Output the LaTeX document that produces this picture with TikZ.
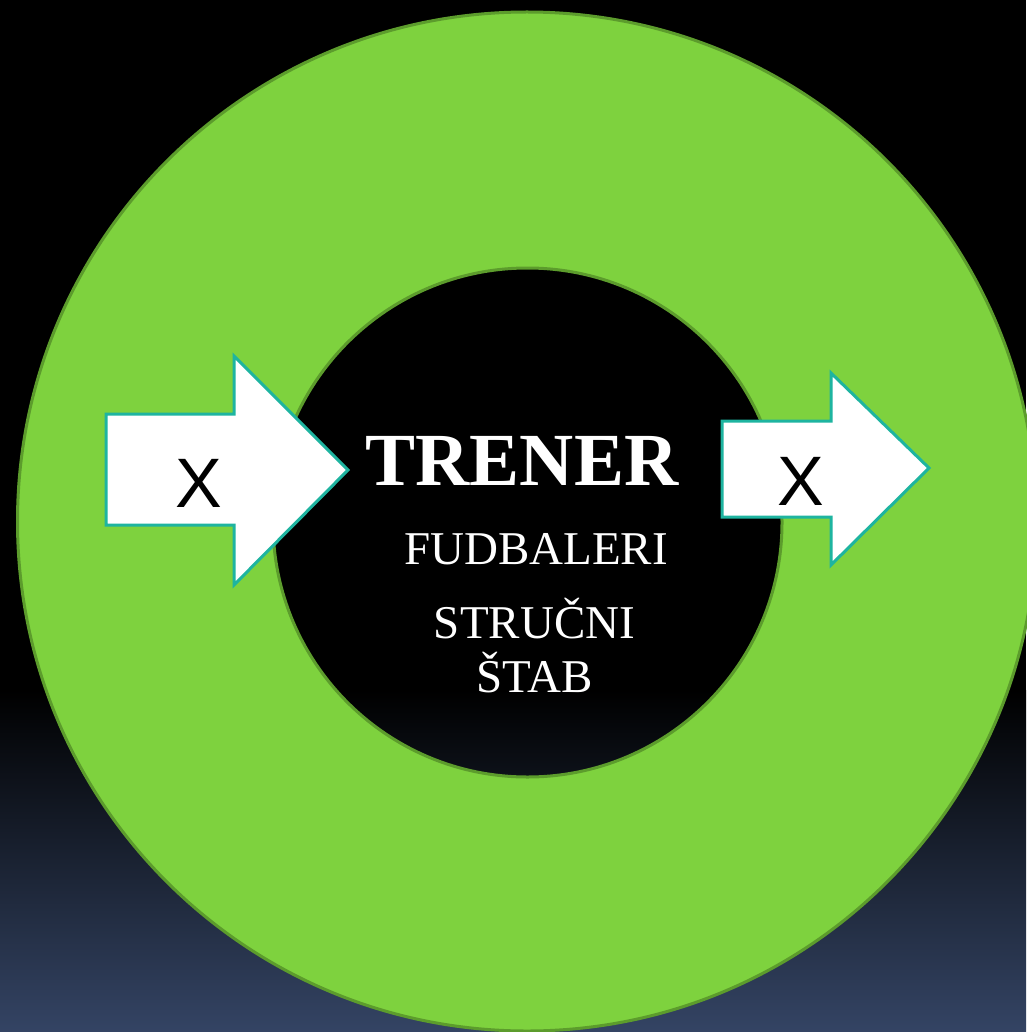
\documentclass[tikz,border=0pt]{standalone}
\usepackage{fontspec}
\setmainfont{Liberation Serif}
\newfontfamily\arialfont{Liberation Sans}
\definecolor{ringgreen}{RGB}{126,210,62}
\definecolor{ringedge}{RGB}{92,156,44}
\definecolor{arrowedge}{RGB}{30,180,160}
\definecolor{skybottom}{RGB}{52,68,100}
\tikzset{
  ring/.style={fill=ringgreen, even odd rule},
  ringline/.style={draw=ringedge, line width=3pt},
  arrowbox/.style={fill=white, draw=arrowedge, line width=3pt, line join=miter},
  xlabel/.style={font=\arialfont\fontsize{70}{70}\selectfont, text=black, anchor=base, inner sep=0pt},
  title/.style={font=\bfseries\fontsize{75}{75}\selectfont, text=white, anchor=base, inner sep=0pt},
  member/.style={font=\fontsize{47}{47}\selectfont, text=white, anchor=base, inner sep=0pt}
}
\begin{document}
\begin{tikzpicture}[x=1pt,y=-1pt]
  % background: black fading into slate blue at the bottom
  \useasboundingbox (0,0) rectangle (1026,1032);
  \fill[black] (0,0) rectangle (1026,691);
  \shade[top color=black, bottom color=skybottom] (0,690) rectangle (1026,1032);

  % green ring
  \coordinate (outerc) at (527,521.5);
  \coordinate (innerc) at (527.5,522.5);
  \fill[ring] (outerc) circle[radius=509.5pt] (innerc) circle[radius=254.5pt];
  \draw[ringline] (outerc) circle[radius=509.5pt];
  \draw[ringline] (innerc) circle[radius=254.5pt];

  % incoming arrow
  \draw[arrowbox] (106,414) -- (234,414) -- (234,356) -- (348,470)
    -- (234,585) -- (234,525) -- (106,525) -- cycle;
  % outgoing arrow
  \draw[arrowbox] (722,421) -- (831,421) -- (831,373) -- (929,468)
    -- (831,565) -- (831,517) -- (722,517) -- cycle;

  \node[xlabel] (xin) at (198.5,507) {X};
  \node[xlabel] (xout) at (800.5,505) {X};

  % centre labels
  \node[title] (trener) at (522,485) {TRENER};
  \node[member] (fud) at (536,564) {FUDBALERI};
  \node[member] (str) at (534.5,638) {STRUČNI};
  \node[member] (stab) at (535,692) {ŠTAB};
\end{tikzpicture}
\end{document}
